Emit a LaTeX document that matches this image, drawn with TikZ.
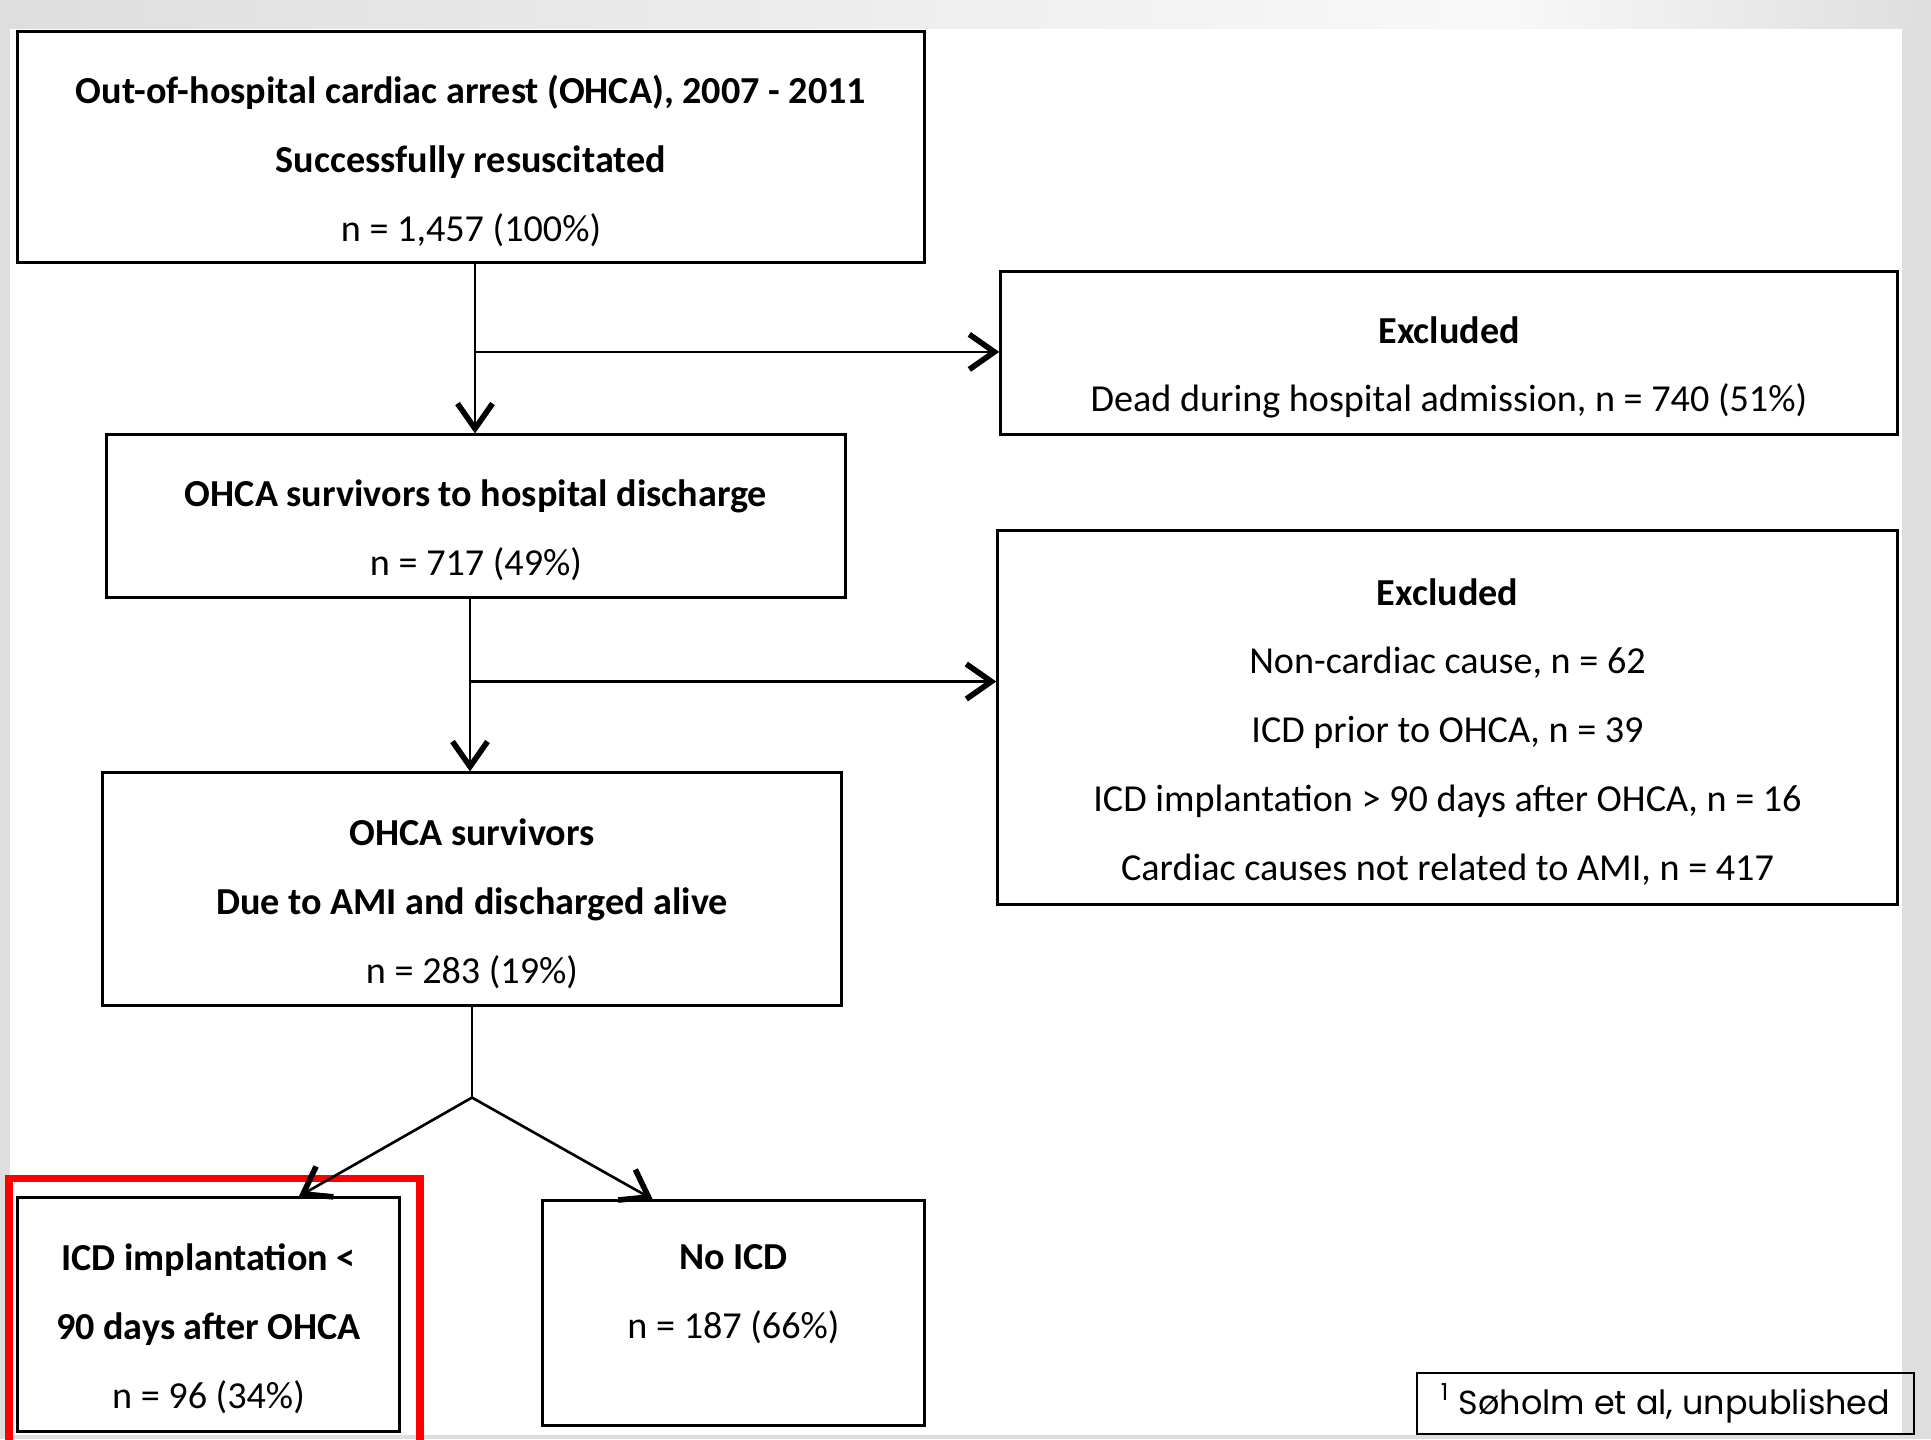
\documentclass[tikz,border=0pt]{standalone}
\usepackage{fontspec}
\setmainfont{Carlito}
\newfontfamily\citefont{Poppins}
\usetikzlibrary{arrows.meta}
\usetikzlibrary{calc}
\definecolor{panelgray}{RGB}{222,222,222}
\definecolor{markred}{RGB}{255,0,0}
\newcommand{\topgap}{\rule{0pt}{15.8pt}}
\newcommand{\bottomgap}{\rule[-12.5pt]{0pt}{12.5pt}}

\tikzset{
  box/.style={draw, line width=0.85pt, align=center, inner sep=0pt,
    font=\fontsize{10.85}{19.6}\selectfont},
  flow/.style={line width=0.75pt, -{Straight Barb[length=2.5mm,width=3.5mm,line width=1.6pt]}},
}

\begin{document}
\begin{tikzpicture}[x=0.01cm,y=-0.01cm]
\useasboundingbox (0,0) rectangle (1931,1439);
\fill[panelgray] (0,0) rectangle (1931,1439);
\shade[left color=panelgray, right color=gray!5] (0,0) rectangle (1500,29);
\shade[left color=gray!5, right color=panelgray] (1500,0) rectangle (1931,29);
\fill[white] (10,29) rectangle (1902,1435);

\node[box, minimum width=9.06cm, minimum height=2.30cm] (ohca) at (471,147)
  {\topgap\textbf{Out-of-hospital cardiac arrest (OHCA), 2007 - 2011}\\ \textbf{Successfully resuscitated}\\ n = 1,457 (100\%)};
\node[box, minimum width=8.96cm, minimum height=1.62cm] (excl1) at (1449,353)
  {\topgap\textbf{Excluded}\\ Dead during hospital admission, n = 740 (51\%)};
\node[box, minimum width=7.38cm, minimum height=1.62cm] (surv) at (476,516)
  {\topgap\textbf{OHCA survivors to hospital discharge}\\ n = 717 (49\%)};
\node[box, minimum width=8.99cm, minimum height=3.73cm] (excl2) at (1447.5,717.5)
  {\topgap\textbf{Excluded}\\ Non-cardiac cause, n = 62\\ ICD prior to OHCA, n = 39\\ ICD implantation > 90 days after OHCA, n = 16\\ Cardiac causes not related to AMI, n = 417};
\node[box, minimum width=7.38cm, minimum height=2.32cm] (ami) at (472,889)
  {\topgap\textbf{OHCA survivors}\\ \textbf{Due to AMI and discharged alive}\\ n = 283 (19\%)};
\node[box, minimum width=3.81cm, minimum height=2.33cm] (icd) at (208.5,1314.5)
  {\topgap\textbf{ICD implantation <}\\ \textbf{90 days after OHCA}\\ n = 96 (34\%)};
\node[box, minimum width=3.81cm, minimum height=2.24cm] (noicd) at (733.5,1313)
  {\textbf{No ICD}\\ n = 187 (66\%)\bottomgap};
\node[draw, line width=0.6pt, minimum width=4.97cm, minimum height=0.61cm, inner sep=0pt,
  font=\citefont\fontsize{9.5}{12}\selectfont] (cite) at (1665.5,1403.5)
  {\textsuperscript{1} Søholm et al, unpublished};

\draw[markred, line width=2pt] (9,1178) rectangle (420,1450);

\coordinate (t1) at ($(ohca.south)+(4,0)$);
\coordinate (t2) at ($(surv.south)+(-6,0)$);
\coordinate (b1) at ($(t1)!0.52!(t1 |- surv.north)$);
\coordinate (b2) at ($(t2)!0.48!(t2 |- ami.north)$);
\coordinate (fork) at ($(ami.south)+(0,91)$);

\draw[flow] (t1) -- (t1 |- surv.north);
\draw[flow] (b1) -- (b1 -| excl1.west);
\draw[flow] (t2) -- (t2 |- ami.north);
\draw[flow] (b2) -- (b2 -| excl2.west);
\draw[line width=0.75pt] (ami.south) -- (fork);
\draw[flow] (fork) -- ($(icd.north)!0.47!(icd.north east)$);
\draw[flow] (fork) -- ($(noicd.north)!0.42!(noicd.north west)$);
\end{tikzpicture}
\end{document}
